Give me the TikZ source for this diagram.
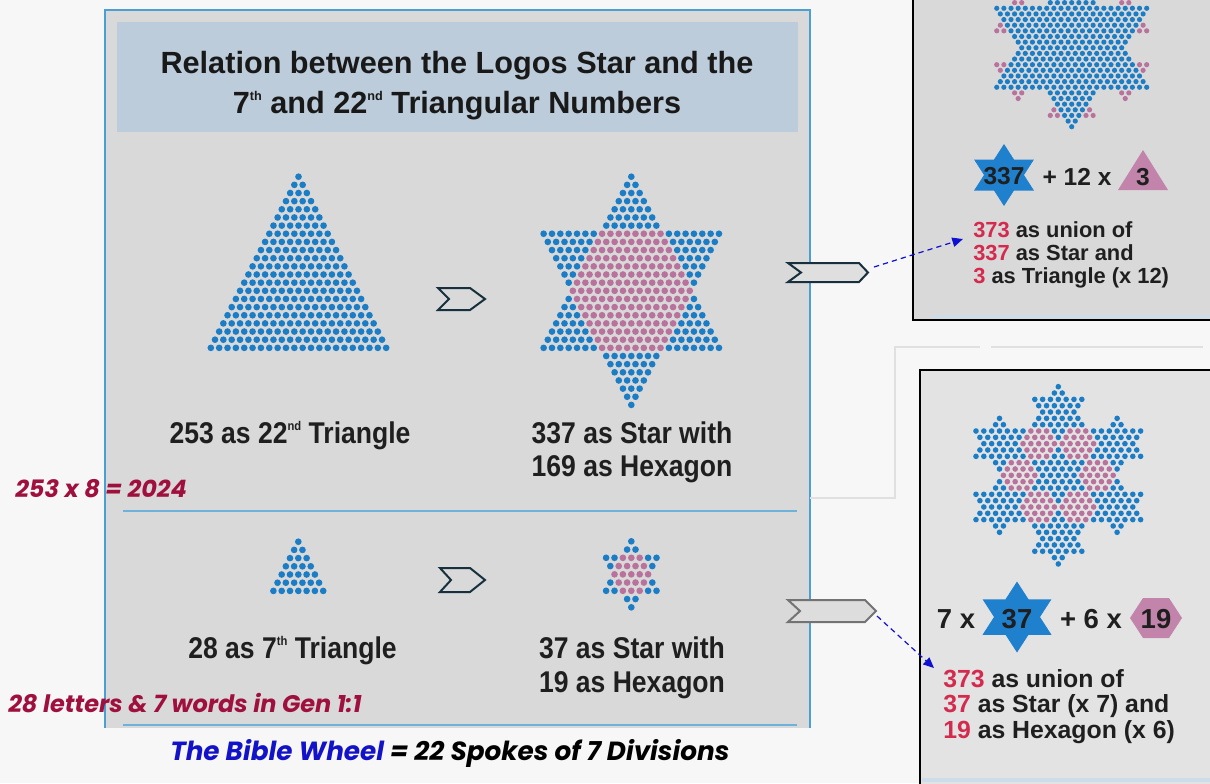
\documentclass[tikz,border=0pt]{standalone}
\usepackage{fontspec}
\setmainfont{Liberation Sans}
\newfontfamily\narrowfont[FakeStretch=0.885]{Liberation Sans}
\newfontfamily\notefont{Poppins}
\usetikzlibrary{arrows.meta}
\definecolor{pagebg}{HTML}{F7F7F7}
\definecolor{panelgray}{HTML}{D9D9D9}
\definecolor{sidegray}{HTML}{E3E3E3}
\definecolor{titlebox}{HTML}{BCCCDA}
\definecolor{panelline}{HTML}{4A9FD3}
\definecolor{dotblue}{HTML}{1B7DC6}
\definecolor{dotpink}{HTML}{B8729C}
\definecolor{starblue}{HTML}{1F80CE}
\definecolor{hexpink}{HTML}{C384AC}
\definecolor{numred}{HTML}{D42A4E}
\definecolor{notered}{HTML}{A0103E}
\definecolor{wheelblue}{HTML}{1212C8}
\definecolor{chevdark}{HTML}{17303E}
\definecolor{linkblue}{HTML}{1010D0}
\definecolor{bandblue}{HTML}{CCDCE8}

\begin{document}
\begin{tikzpicture}[x=0.75pt,y=-0.75pt,
bdot/.style={fill=dotblue},pdot/.style={fill=dotpink},
chev/.style={draw=chevdark, line width=1.5pt, fill=panelgray},
graychev/.style={draw=black!55, line width=1.5pt, fill=panelgray!90!white},
link/.style={-{Triangle[length=8pt,width=7pt]}, linkblue, dashed, dash pattern=on 4pt off 3pt, line width=0.9pt},
frameline/.style={draw=black!12, line width=1.1pt},
title/.style={font=\bfseries\fontsize{23}{28}\selectfont, text=black!90, inner sep=0pt, anchor=base},
label/.style={font=\narrowfont\bfseries\fontsize{22.5}{27}\selectfont, text=black!88, inner sep=0pt, anchor=base},
side/.style={font=\bfseries\fontsize{16.4}{19}\selectfont, text=black!88, inner sep=0pt, anchor=base west},
sidelow/.style={side, font=\bfseries\fontsize{18.6}{22}\selectfont},
formula/.style={font=\bfseries\fontsize{18.4}{22}\selectfont, text=black!88, inner sep=0pt, anchor=base},
bigformula/.style={formula, font=\bfseries\fontsize{20.6}{24}\selectfont},
note/.style={font=\notefont\bfseries\itshape\fontsize{18}{22}\selectfont, inner sep=0pt, anchor=base west}]
\clip (0,0) rectangle (1210,783);
\fill[pagebg] (0,0) rectangle (1210,783);
% main panel
\fill[panelgray] (105,10) rectangle (810,728);
\draw[panelline, line width=1.1pt] (105,728) -- (105,10) -- (810,10) -- (810,728);
\fill[titlebox] (117,22) rectangle (798,132);
\node[title] (t1) at (457,73.3) {Relation between the Logos Star and the};
\node[title] (t2) at (457,113.3) {7\raisebox{9.5pt}{\fontsize{9.5}{10}\selectfont th} and 22\raisebox{9.5pt}{\fontsize{9.5}{10}\selectfont nd} Triangular Numbers};
\draw[panelline!80, line width=1.1pt] (123,511) -- (797,511);
\draw[panelline!80, line width=1.1pt] (123,725) -- (797,725);
% triangles
\foreach \row in {0,...,21}
  \foreach \i in {0,...,\row}
    \fill[bdot] ({298.5+(\i-\row/2)*8.35},{176.7+\row*8.15}) circle (2.5pt);
\foreach \row in {0,...,6}
  \foreach \i in {0,...,\row}
    \fill[bdot] ({298.3+(\i-\row/2)*8.3},{541.7+\row*8.2}) circle (2.5pt);
% stars with hexagon
\foreach \row in {0,...,28}{
  \pgfmathsetmacro\hu{\row<=21 ? \row/2 : -1}
  \pgfmathsetmacro\hd{\row>=7 ? (28-\row)/2 : -1}
  \pgfmathsetmacro\hwd{max(\hu,\hd)}
  \pgfmathsetmacro\hk{min(\hu,\hd)}
  \pgfmathtruncatemacro\nn{2*\hwd}
  \foreach \j in {0,...,\nn}{
    \pgfmathsetmacro\off{\j-\hwd}
    \pgfmathtruncatemacro\pk{abs(\off)<=\hk+0.01}
    \ifnum\pk=1 \def\dc{dotpink}\else\def\dc{dotblue}\fi
    \fill[\dc] ({631.3+\off*8.35},{176.7+\row*8.15}) circle (2.5pt);
  }
}
\foreach \row in {0,...,8}{
  \pgfmathsetmacro\hu{\row<=6 ? \row/2 : -1}
  \pgfmathsetmacro\hd{\row>=2 ? (8-\row)/2 : -1}
  \pgfmathsetmacro\hwd{max(\hu,\hd)}
  \pgfmathsetmacro\hk{min(\hu,\hd)}
  \pgfmathtruncatemacro\nn{2*\hwd}
  \foreach \j in {0,...,\nn}{
    \pgfmathsetmacro\off{\j-\hwd}
    \pgfmathtruncatemacro\pk{abs(\off)<=\hk+0.01}
    \ifnum\pk=1 \def\dc{dotpink}\else\def\dc{dotblue}\fi
    \fill[\dc] ({631.3+\off*8.4},{541.3+\row*8.25}) circle (2.5pt);
  }
}
\node[label] (l1) at (290,443) {253 as 22\raisebox{9.5pt}{\fontsize{9.5}{10}\selectfont nd} Triangle};
\node[label] (l2) at (632,443) {337 as Star with};
\node[label] (l3) at (632,476) {169 as Hexagon};
\node[label] (l4) at (292.5,658) {28 as 7\raisebox{9.5pt}{\fontsize{9.5}{10}\selectfont th} Triangle};
\node[label] (l5) at (632,658) {37 as Star with};
\node[label] (l6) at (632,692) {19 as Hexagon};
\draw[chev] (438,288) -- (470,288) -- (485,299) -- (470,310) -- (438,310) -- (449,299) -- cycle;
\draw[chev] (440,568) -- (470,568) -- (485,580) -- (470,592) -- (440,592) -- (451,580) -- cycle;
% frame between the side panels
\draw[frameline] (810,498) -- (895,498) -- (895,347) -- (980,347);
\draw[frameline] (991,347) -- (1203,347);
% top side panel
\fill[panelgray] (913,-5) rectangle (1215,320);
\draw[bandblue, line width=2pt] (932,316.5) -- (1215,316.5);
\draw[black, line width=1pt] (913,-5) rectangle (1215,320);
\foreach \row in {0,...,28}{
  \pgfmathsetmacro\hu{\row<=21 ? \row/2 : -1}
  \pgfmathsetmacro\hd{\row>=7 ? (28-\row)/2 : -1}
  \pgfmathsetmacro\hwd{max(\hu,\hd)}
  \pgfmathtruncatemacro\nn{2*\hwd}
  \foreach \j in {0,...,\nn}
    \fill[bdot] ({1071.7+(\j-\hwd)*7.14},{-31.2+\row*5.64}) circle (1.95pt);
}
\foreach \rc/\oc in {4/0,9/7.5,19/7.5,24/0,19/-7.5,9/-7.5}
  \foreach \k in {-4,...,4}{
    \pgfmathsetmacro\hu{\k<=2 ? (\k+4)/2 : -1}
    \pgfmathsetmacro\hd{\k>=-2 ? (4-\k)/2 : -1}
    \pgfmathsetmacro\hwd{max(\hu,\hd)}
    \pgfmathtruncatemacro\nn{2*\hwd}
    \foreach \j in {0,...,\nn}{
      \pgfmathsetmacro\off{\oc+\j-\hwd}
      \pgfmathsetmacro\row{\rc+\k}
      \pgfmathtruncatemacro\instar{((\row<=21) && (abs(\off)<=\row/2+0.01)) || ((\row>=7) && (abs(\off)<=(28-\row)/2+0.01))}
      \ifnum\instar=0 \fill[pdot] ({1071.7+\off*7.14},{-31.2+\row*5.64}) circle (1.95pt);\fi
    }
  }
\fill[starblue] (1004,175) +(90:34.6 and 31) \foreach \a in {0,...,5}{ -- +({120+60*\a}:20 and 17.9) -- +({150+60*\a}:34.6 and 31)} -- cycle;
\node[formula] (f1) at (1004,184) {337};
\node[formula] (f2) at (1077,185) {+ 12 x};
\fill[hexpink] (1143,150) -- (1168,190) -- (1118,190) -- cycle;
\node[formula] (f3) at (1143,185) {3};
\node[side] (tr1) at (973,237) {\textcolor{numred}{373} as union of};
\node[side] (tr2) at (973,260) {\textcolor{numred}{337} as Star and};
\node[side] (tr3) at (973,283) {\textcolor{numred}{3} as Triangle (x 12)};
% bottom side panel
\fill[sidegray] (920,370) rectangle (1215,790);
\draw[bandblue, line width=3pt] (922,780) -- (1215,780);
\draw[black, line width=1.1pt] (920,370) rectangle (1215,790);
\foreach \rc/\oc in {14/0,4/0,9/7.5,19/7.5,24/0,19/-7.5,9/-7.5}
  \foreach \k in {-4,...,4}{
    \pgfmathsetmacro\hu{\k<=2 ? (\k+4)/2 : -1}
    \pgfmathsetmacro\hd{\k>=-2 ? (4-\k)/2 : -1}
    \pgfmathsetmacro\hwd{max(\hu,\hd)}
    \pgfmathtruncatemacro\nn{2*\hwd}
    \foreach \j in {0,...,\nn}
      \fill[bdot] ({1058.3+(\oc+\j-\hwd)*7.84},{386.7+(\rc+\k)*6.33}) circle (2.1pt);
  }
\foreach \rc/\oc in {14/5,14/-5,9/2.5,9/-2.5,19/2.5,19/-2.5}
  \foreach \k in {-2,...,2}{
    \pgfmathsetmacro\hwd{2-abs(\k)/2}
    \pgfmathtruncatemacro\nn{2*\hwd}
    \foreach \j in {0,...,\nn}
      \fill[pdot] ({1058.3+(\oc+\j-\hwd)*7.84},{386.7+(\rc+\k)*6.33}) circle (2.1pt);
  }
\node[bigformula] (g1) at (956,628) {7 x};
\fill[starblue] (1017,617) +(90:39.8 and 35.5) \foreach \a in {0,...,5}{ -- +({120+60*\a}:23 and 20.5) -- +({150+60*\a}:39.8 and 35.5)} -- cycle;
\node[bigformula] (g2) at (1017,628) {37};
\node[bigformula] (g3) at (1091,628) {+ 6 x};
\fill[hexpink] (1130,618) -- (1143,598) -- (1169,598) -- (1182,618) -- (1169,638) -- (1143,638) -- cycle;
\node[bigformula] (g4) at (1156,628) {19};
\node[sidelow] (br1) at (943,687) {\textcolor{numred}{373} as union of};
\node[sidelow] (br2) at (943,712) {\textcolor{numred}{37} as Star (x 7) and};
\node[sidelow] (br3) at (943,738) {\textcolor{numred}{19} as Hexagon (x 6)};
% chevrons to the side panels
\draw[chev, fill=panelgray!85!white] (788,263) -- (859,263) -- (868,272.5) -- (859,282) -- (788,282) -- (801,272.5) -- cycle;
\draw[graychev] (788,600) -- (865,600) -- (876,611) -- (865,622) -- (788,622) -- (800,611) -- cycle;
\coordinate (ch1) at (874,267);
\coordinate (ch2) at (877,616);
\coordinate (a1) at (963,239);
\coordinate (a2) at (934,668);
\draw[link] (ch1) -- (a1);
\draw[link] (ch2) -- (a2);
% notes
\node[note, text=notered] (n1) at (15,497) {253 x 8 = 2024};
\node[note, text=notered] (n2) at (8,712) {28 letters \& 7 words in Gen 1:1};
\node[note, font=\notefont\bfseries\itshape\fontsize{19.7}{24}\selectfont] (n3) at (170,760) {\textcolor{wheelblue}{The Bible Wheel} = 22 Spokes of 7 Divisions};
\end{tikzpicture}
\end{document}
